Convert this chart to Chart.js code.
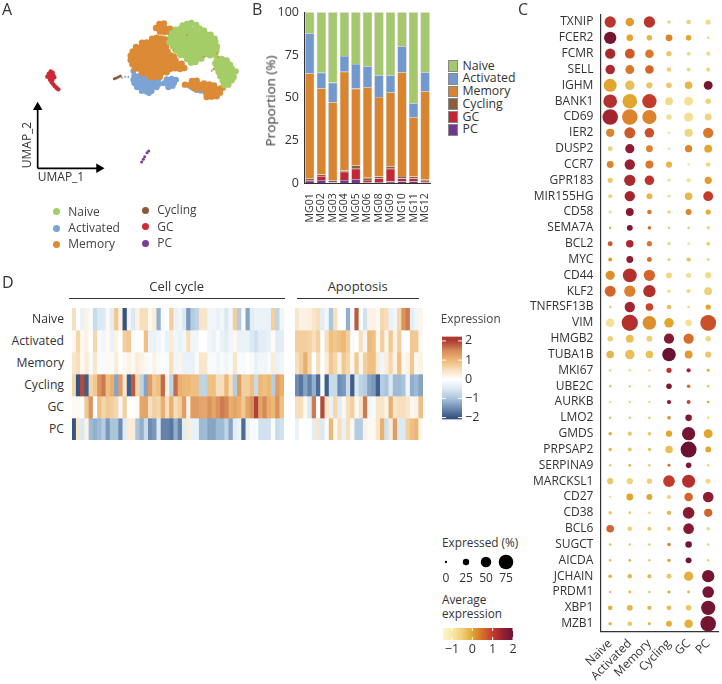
<!DOCTYPE html>
<html>
<head>
<meta charset="utf-8">
<title>MG B cell atlas</title>
<script src="https://cdn.jsdelivr.net/npm/chart.js@4"></script>
<style>
  html, body { margin: 0; padding: 0; background: #fff; }
  #page { position: relative; width: 722px; height: 684px; overflow: hidden; font-family: "Open Sans", sans-serif; color: #333; }
  #page canvas { position: absolute; }
  .t { position: absolute; white-space: nowrap; line-height: 1; }
  .rule { position: absolute; height: 1.4px; background: #333; }
  .dot { position: absolute; width: 7px; height: 7px; border-radius: 50%; }
  .sw { position: absolute; width: 8px; height: 9.7px; border: 1px solid #888; }
</style>
</head>
<body>
<div id="page"></div>
<script>
/* ---------- A: UMAP, picture units ---------- */
const umapNaive = [[548,76],[561,72],[574,69],[589,75],[526,89],[541,86],[556,87],[569,84],[584,88],[599,86],[612,92],
  [516,100],[531,102],[545,99],[560,101],[576,98],[590,102],[605,99],[619,103],[632,104],[512,113],[527,114],[542,112],[557,115],[572,112],[587,114],[602,112],[617,115],[632,113],[644,116],
  [508,127],[525,125],[540,128],[555,126],[570,128],[585,125],[600,128],[615,126],[630,128],[646,126],[518,139],[533,140],[548,138],[563,141],[578,138],[593,140],[608,138],[623,141],[638,139],[651,140],
  [528,152],[543,153],[558,151],[573,153],[588,151],[603,153],[618,151],[633,154],[649,152],[541,165],[555,166],[570,164],[585,166],[600,165],[615,163],[630,166],[646,164],
  [561,177],[575,179],[590,177],[604,176],[651,178],[665,177],[680,181],[573,188],[586,186],[646,190],[660,189],[675,192],[690,194],
  [650,203],[665,204],[680,203],[695,205],[656,216],[670,217],[685,215],[700,217],[707,214],[661,229],[675,230],[690,228],[701,231],[668,242],[682,243],[695,241],[672,255],[685,254]];
const umapActivated = [[400,213],[403,227],[416,229],[430,231],[400,239],[415,238],[430,240],[445,238],[460,240],[475,238],[500,238],[515,236],[528,239],
  [403,250],[417,252],[432,250],[447,252],[462,250],[477,252],[492,250],[507,251],[522,249],[411,262],[425,263],[440,262],[455,264],[470,262],[505,262],[518,258],
  [425,273],[440,275],[455,273],[447,279],[570,258],[577,263],[590,270],[602,272],[651,197]];
const umapMemory = [[456,116],[470,113],[485,115],[497,118],[426,128],[440,127],[455,129],[470,126],[485,128],[500,127],[408,141],[423,142],[438,140],[453,142],[468,140],[483,142],[498,140],
  [398,154],[413,155],[428,153],[443,155],[458,153],[473,155],[488,153],[503,155],[392,167],[407,168],[422,166],[437,168],[452,166],[467,168],[482,166],[497,168],[512,166],[522,170],
  [392,180],[407,181],[422,179],[437,181],[452,179],[467,181],[482,179],[497,181],[512,179],[527,182],[397,193],[412,194],[427,192],[442,194],[457,192],[472,194],[487,192],[502,194],[517,192],[532,195],[545,191],
  [405,206],[420,207],[435,205],[450,207],[465,205],[480,207],[495,205],[510,207],[525,205],[540,207],[553,204],[425,219],[440,220],[455,218],[470,220],[485,218],[500,217],[450,231],[465,232],[480,230],
  [478,72],[492,70],[468,84],[482,83],[496,85],[510,86],[480,95],[494,96],[508,96],[520,92],
  [576,243],[590,242],[555,254],[570,255],[585,253],[600,255],[612,250],[628,253],[642,256],[585,266],[600,265],[615,267],[630,265],[645,267],[660,266],[668,263],[618,278],[633,279],[648,277],[660,278],[620,291],[635,290],[650,289]];
const umapStray = [[562,105],[655,171],[640,208],[635,212],[520,150],[612,170],[650,160]];
const umapStrayBlue = [[375,230],[385,231],[366,233]];
const umapCycling = [[343,236],[349,234],[355,231],[361,228]];
const umapGC = [[152,214],[158,218],[146,222],[152,224],[160,226],[142,230],[148,232],[155,233],[163,232],[150,239],[157,240],[155,247],[160,253],[165,259],[170,264],[175,268]];
const umapPC = [[425,486],[430,478],[434,470],[441,458],[446,453]];
const umapAxisX = [[113,505],[297,505]];
const umapAxisY = [[113,505],[113,322]];

/* ---------- B: composition per sample ---------- */
const samples = ['MG01','MG02','MG03','MG04','MG05','MG06','MG08','MG09','MG10','MG11','MG12'];
const propPC       = [1.5, 2.0, 0.3, 2.0, 2.5, 0.5, 0.7, 1.0, 1.2, 1.2, 0.5];
const propGC       = [0.5, 2.2, 0.2, 4.8, 6.0, 1.5, 2.3, 7.5, 1.6, 1.6, 1.0];
const propCycling  = [1.0, 1.0, 1.3, 0.7, 2.0, 1.2, 1.0, 1.5, 1.5, 1.2, 0.8];
const propMemory   = [61.3, 50.4, 45.6, 57.8, 44.9, 52.9, 46.5, 43.2, 60.6, 34.6, 51.5];
const propActivated= [23.4, 9.1, 11.5, 9.2, 14.4, 12.3, 12.7, 10.0, 15.2, 8.2, 11.1];
const propNaive    = [12.3, 35.3, 41.1, 25.5, 30.2, 31.6, 36.8, 36.8, 19.9, 53.2, 35.1];
const propTicks = [0, 25, 50, 75, 100];

/* ---------- C: dot plot ---------- */
const cellTypes = ['Naive','Activated','Memory','Cycling','GC','PC'];
const genes = ['TXNIP','FCER2','FCMR','SELL','IGHM','BANK1','CD69','IER2','DUSP2','CCR7','GPR183','MIR155HG','CD58','SEMA7A','BCL2','MYC','CD44','KLF2','TNFRSF13B','VIM',
  'HMGB2','TUBA1B','MKI67','UBE2C','AURKB','LMO2','GMDS','PRPSAP2','SERPINA9','MARCKSL1','CD27','CD38','BCL6','SUGCT','AICDA','JCHAIN','PRDM1','XBP1','MZB1'];
const expressedPct = [
  [55,38,55,6,14,18],[61,26,20,28,20,2],[49,46,38,18,10,12],[44,40,38,14,10,12],[65,44,24,20,32,40],[69,75,73,34,40,18],[81,81,73,20,42,28],[36,53,44,4,36,49],[16,42,28,4,30,34],[28,49,34,24,2,14],
  [18,55,44,4,12,30],[10,49,22,4,32,46],[4,34,14,8,22,18],[2,22,8,2,2,4],[16,32,18,6,2,10],[10,28,16,4,12,4],[42,71,55,22,18,24],[53,55,61,6,12,34],[4,49,32,14,2,18],[38,85,69,44,26,83],
  [20,34,22,48,49,18],[32,44,32,69,34,24],[2,1,1,18,12,4],[2,1,1,20,8,2],[2,1,1,12,10,2],[2,1,1,8,26,1],[8,12,8,24,67,40],[6,10,6,32,83,22],[1,2,1,4,20,1],[24,24,18,57,65,16],
  [2,28,22,12,38,51],[8,4,2,12,57,36],[32,14,10,10,51,8],[2,1,1,8,26,2],[2,2,1,6,22,2],[8,14,10,16,42,61],[2,4,2,4,4,57],[14,22,12,16,20,73],[8,14,4,22,38,81]];
const averageExpr = [
  [1.1,0.1,1.1,-0.5,-0.5,-0.7],[1.9,0,-0.2,0.3,0,-0.6],[1.3,0.7,0.4,-0.4,-0.7,-0.7],[1.3,0.4,0.6,-0.5,-0.6,-0.6],[0,-0.3,-0.4,-0.4,-0.2,1.9],[1.2,0,1.0,-0.7,-0.8,-0.5],[1.4,0.3,0.3,-0.8,-0.8,-0.6],[0.3,0.7,0.8,-1,-0.6,0.4],[-0.5,1.6,0.3,-0.9,0.3,0],[0.3,1.5,0.4,-0.2,-0.9,-0.6],
  [-0.4,1.3,1.1,-0.7,-0.8,0.1],[-0.5,1.4,-0.2,-0.7,-0.2,1.0],[-0.7,1.7,0.4,-0.6,0.3,-0.1],[-0.2,1.8,0.5,-0.5,-0.4,-0.4],[0.7,1.3,0.4,-0.6,-0.8,-0.5],[0.1,1.6,0.5,-0.5,-0.3,-0.6],[0.2,1.2,0.6,-0.6,-0.8,-0.7],[0.6,0.3,1.2,-0.7,-0.7,-0.5],[-0.6,1.4,0.9,-0.3,-0.6,0],[-0.8,1.2,0.2,0,-0.8,0.8],
  [-0.5,-0.3,-0.5,1.7,0.5,-0.6],[-0.2,-0.3,-0.3,2,0.1,-0.4],[-0.6,-0.7,-0.7,1.1,1.4,0],[-0.4,-0.5,-0.5,1.8,0.5,-0.4],[-0.7,-0.6,-0.7,1.6,0.9,0],[-0.3,-0.4,-0.4,0.2,1.8,-0.6],[-0.1,-0.4,-0.4,0,1.9,0],[-0.2,-0.4,-0.3,-0.3,2,0],[-0.4,-0.1,-0.4,0.5,1.8,-0.5],[-0.4,-0.6,-0.5,1.0,1.2,-0.6],
  [-0.8,0,0,-0.6,0.6,1.6],[-0.4,-0.5,-0.6,-0.2,1.7,0.6],[0.6,-0.5,-0.4,-0.3,1.7,-0.6],[-0.3,-0.4,-0.4,0.3,1.9,-0.5],[-0.3,-0.1,-0.4,0.1,1.9,-0.5],[-0.1,-0.2,-0.2,-0.4,-0.1,1.9],[-0.3,-0.2,-0.4,0,-0.2,1.9],[-0.1,-0.2,-0.2,-0.3,-0.4,1.9],[-0.2,-0.4,-0.1,-0.1,-0.1,1.9]];
const legendPct = ['0','25','50','75'];
const avgTicks = [-1, 0, 1, 2];

/* ---------- D: pathway heatmap ---------- */
const heatRows = ['Naive','Activated','Memory','Cycling','GC','PC'];
const cycleNaive = [.5,0,-.3,.2,-.1,-.7,-.5,-.5,.1,-.4,.8,.2,-2,-.2,-.5,.2,.5,.5,.1,.3,-1.2,-.1,0,.7,-.3,-.2,-.5,-1.4,-.9,-.8,.4,.4,-.2,-.2,-.3,-.2,-.5,-.2,.7,-.9,-.1,-1.3,-.4,-.3,-.3,-.3,-.3,.7,-.8,-.2];
const cycleActivated = [.1,.6,.1,.2,0,.6,-.1,-.2,.1,-.3,.2,0,.7,.8,-.1,0,0,.9,-.3,-.3,-.2,-.1,-.3,.3,-.2,-.3,-.2,.5,-.2,-.2,0,0,-.2,-.3,-.1,-.3,-.4,-.2,.1,-.3,-.3,-.3,-.5,-.6,-.4,-.4,-.3,.05,-.4,-.4];
const cycleMemory = [.4,.5,.1,.3,-.1,.4,-.1,-.1,.1,-.1,.3,0,.1,.2,.1,.3,.2,.1,-.1,.2,-.1,-.05,-.1,.5,-.2,.15,-.3,-.3,-.3,-.1,.4,.4,-.1,-.1,-.2,-.1,-.2,-.1,.4,-.1,-.1,0,-.1,-.3,-.2,-.2,-.1,.3,-.3,-.2];
const cycleCycling = [.6,-2,1.9,-1.9,.6,.8,1.4,1.6,.9,1.1,-1.3,1.3,.4,-1.9,1.8,.6,-.8,-1.3,1.3,.8,.9,1.7,.2,-.8,1.7,1.1,1,1,.9,.9,-.8,-.8,.9,.9,.5,.5,1,.5,-.9,1.3,.7,.7,.9,-.7,1,.9,1,-.9,1.3,1.1];
const cycleGC = [.1,.1,0,.8,1.4,0,.9,.6,.8,.7,.6,.1,.7,0,0,.1,1.2,1.2,.5,.7,.6,1.1,.5,1.1,.5,.7,1.3,.2,1.3,1.3,1.2,1.2,1.4,1.2,1.4,1.6,1.5,1.1,1.2,1.1,.8,1.2,1.4,1.95,1.2,1.5,1.1,1,1.4,.9];
const cyclePC = [-2,.4,-.5,.2,-1.1,-1.2,-1.1,-.9,-1.4,-1,-1,-1.5,-.4,.3,.3,-1,-1.2,-.7,-1.5,-1.4,-.5,-1.6,-1.6,-1.7,-1.2,-1.6,-.4,.3,-.3,-.3,-1.1,-1.1,-1.3,-1.3,-1.1,-1.1,-.8,-1.3,-.4,-.3,-1.8,-.3,-.1,-.1,-.6,-.6,-.6,-.1,-.7,-.6];
const apoNaive = [.4,.2,.2,.25,.4,.5,-.4,-.2,-1,.5,0,0,-1.2,-.1,1.8,0,-.6,.2,.2,.1,.6,.5,-.3,-.2,.6,1.4,1.6,-.4,-.2,.15];
const apoActivated = [.7,.7,.7,.65,.5,.7,0,.5,.9,.8,.9,1,.7,-.1,0,.5,-.2,1,.9,.1,.7,.2,.8,.2,.7,0,0,.8,.8,.1];
const apoMemory = [.5,.7,1.1,.6,0,.5,0,.3,.8,.6,.2,.8,.6,.1,.8,.1,.7,.9,.9,.3,-.2,.3,.6,.2,.9,.1,.2,.8,.1,.2];
const apoCycling = [-1.5,-1.7,-1.3,-1.6,-1.2,-1.8,-.1,-1.9,-.7,-.7,-1.5,-1.4,-.7,-1.9,-.5,-.8,-.9,-1.3,-1.4,-1.9,-.9,-1,-.5,-1.1,-1.1,-1,-.2,-1.2,-1.1,-1.3];
const apoGC = [.5,.5,.1,-.5,1.6,0,1.9,.4,-.3,.6,-.4,.1,.5,.7,.1,.4,1.6,-.2,-.1,.4,.4,.2,1.1,.4,.5,.5,.4,.1,.2,.9];
const apoPC = [-.3,0,0,0,-.4,.4,-.5,-.1,1,.1,.5,-.3,.5,.1,-.9,-.9,.2,.1,.1,.4,1.1,-.6,.3,1.3,-.5,-.5,.7,.9,1,.1];
const heatTicks = [-2, -1, 0, 1, 2];

const TYPE_COLORS = { Naive: '#a4cd68', Activated: '#7ba3d6', Memory: '#dc8a35', Cycling: '#8a5a3a', GC: '#cc2a35', PC: '#7d3c98' };
const BAR_COLORS = { Naive: '#a3c96c', Activated: '#7199cf', Memory: '#d98530', Cycling: '#8b5f3c', GC: '#c62633', PC: '#74378f' };
const HEAT_STOPS = [[-2,'#36547f'],[-1.5,'#6f8db4'],[-1,'#aac6dc'],[-.5,'#dbe9f2'],[0,'#ffffff'],[.5,'#f7dfbd'],[1,'#edb873'],[1.5,'#d58a58'],[2,'#ad3a33']];
const AVG_STOPS = [[-1.44,'#fdf6c8'],[-1,'#f9e9a8'],[-.5,'#efd077'],[0,'#e2a52e'],[.4,'#d9782c'],[1,'#c33c2b'],[1.5,'#982032'],[2,'#6b1232']];

Chart.defaults.font.family = '"Open Sans", sans-serif';
Chart.defaults.color = '#333';
Chart.defaults.animation = false;
Chart.defaults.responsive = false;
Chart.defaults.plugins.legend.display = false;
Chart.defaults.plugins.tooltip.enabled = false;

const page = document.getElementById('page');

function canvasAt(left, top, width, height) {
  const c = document.createElement('canvas');
  c.width = width; c.height = height;
  c.style.left = left + 'px'; c.style.top = top + 'px';
  c.style.width = width + 'px'; c.style.height = height + 'px';
  page.appendChild(c);
  return c.getContext('2d');
}

function text(str, x, y, size, opts) {
  opts = opts || {};
  const d = document.createElement('div');
  d.className = 't';
  d.textContent = str;
  d.style.left = x + 'px';
  d.style.top = y + 'px';
  d.style.fontSize = size + 'px';
  // x,y is the anchor; middle of line vertically
  const tx = opts.align === 'right' ? '-100%' : opts.align === 'center' ? '-50%' : '0';
  d.style.transform = `translate(${tx},-50%)` + (opts.rotate ? ` rotate(${opts.rotate}deg)` : '');
  if (opts.color) d.style.color = opts.color;
  page.appendChild(d);
}

function hexToRgb(h) {
  return [1, 3, 5].map(i => parseInt(h.slice(i, i + 2), 16));
}

function ramp(stops, v) {
  if (v <= stops[0][0]) return stops[0][1];
  for (let i = 1; i < stops.length; i++) {
    if (v <= stops[i][0]) {
      const t = (v - stops[i - 1][0]) / (stops[i][0] - stops[i - 1][0]);
      const a = hexToRgb(stops[i - 1][1]), b = hexToRgb(stops[i][1]);
      const m = a.map((c, k) => Math.round(c + (b[k] - c) * t));
      return `rgb(${m[0]},${m[1]},${m[2]})`;
    }
  }
  return stops[stops.length - 1][1];
}

const pctRadius = (p) => 1.15 + 0.082 * p;
const minus = (v) => String(v).replace('-', '\u2212');

// paints a scale's stops along a chart area, from min to max of the value scale
function scaleGradient(chart, stops, horizontal) {
  const a = chart.chartArea;
  if (!a) return stops[0][1];
  const scale = horizontal ? chart.scales.x : chart.scales.y;
  const g = horizontal
    ? chart.ctx.createLinearGradient(a.left, 0, a.right, 0)
    : chart.ctx.createLinearGradient(0, a.bottom, 0, a.top);
  const span = scale.max - scale.min;
  stops.forEach(s => {
    const t = (s[0] - scale.min) / span;
    if (t >= 0 && t <= 1) g.addColorStop(t, s[1]);
  });
  return g;
}

// short white notches on both edges of a colour bar
const barNotches = {
  id: 'barNotches',
  afterDatasetsDraw(chart) {
    const { ctx, chartArea: a, scales } = chart;
    const horizontal = chart.options.indexAxis === 'y';
    const scale = horizontal ? scales.x : scales.y;
    ctx.save();
    ctx.strokeStyle = '#fff';
    ctx.lineWidth = 1;
    scale.ticks.forEach(t => {
      const p = scale.getPixelForValue(t.value);
      ctx.beginPath();
      if (horizontal) {
        ctx.moveTo(p, a.top); ctx.lineTo(p, a.top + 3);
        ctx.moveTo(p, a.bottom - 3); ctx.lineTo(p, a.bottom);
      } else {
        ctx.moveTo(a.left, p); ctx.lineTo(a.left + 4, p);
        ctx.moveTo(a.right - 4, p); ctx.lineTo(a.right, p);
      }
      ctx.stroke();
    });
    ctx.restore();
  }
};

/* ---------- panel A ---------- */
function drawUmap() {
  const pts = (list) => list.map(p => ({ x: p[0], y: p[1] }));
  const cloud = (color, list, r) => ({
    data: pts(list), backgroundColor: color, borderWidth: 0, pointRadius: r
  });
  const arrow = (list, rotation) => ({
    type: 'line', data: pts(list), borderColor: '#000', borderWidth: 1.7, backgroundColor: '#000',
    pointStyle: 'triangle', pointRotation: rotation, pointRadius: [0, 5.5], pointBorderWidth: 0
  });
  new Chart(canvasAt(0, 0, 250, 260), {
    type: 'scatter',
    data: { datasets: [
      arrow(umapAxisX, 90), arrow(umapAxisY, 0),
      cloud(TYPE_COLORS.Memory, umapStray, 1),
      cloud(TYPE_COLORS.Activated, umapStrayBlue, 1),
      cloud(TYPE_COLORS.Naive, umapNaive, 3.2),
      cloud(TYPE_COLORS.Memory, umapMemory, 3.2),
      cloud(TYPE_COLORS.Activated, umapActivated, 3),
      cloud(TYPE_COLORS.Cycling, umapCycling, 1.5),
      cloud(TYPE_COLORS.GC, umapGC, 2.2),
      cloud(TYPE_COLORS.PC, umapPC, 1.5),
    ] },
    options: {
      layout: { padding: 0, autoPadding: false },
      scales: {
        x: { display: false, min: 0, max: 750 },
        y: { display: false, min: 0, max: 780, reverse: true },
      },
    },
  });
  text('UMAP_1', 61, 177, 12, { align: 'center' });
  text('UMAP_2', 27, 145, 12, { align: 'center', rotate: -90 });

  const legend = [['Naive', 56.7, 211.7], ['Activated', 56.7, 228], ['Memory', 56.7, 244.3],
                  ['Cycling', 145.7, 210.3], ['GC', 145.7, 226.7], ['PC', 145.7, 243]];
  legend.forEach(l => {
    const d = document.createElement('div');
    d.className = 'dot';
    d.style.left = (l[1] - 3.5) + 'px';
    d.style.top = (l[2] - 3.5) + 'px';
    d.style.background = TYPE_COLORS[l[0]];
    page.appendChild(d);
    text(l[0], l[1] + 11.6, l[2], 12, { color: '#444' });
  });
}

/* ---------- panel B ---------- */
function drawProportion() {
  const series = [['PC', propPC], ['GC', propGC], ['Cycling', propCycling], ['Memory', propMemory], ['Activated', propActivated], ['Naive', propNaive]];
  new Chart(canvasAt(250, 0, 190, 225), {
    type: 'bar',
    data: {
      labels: samples,
      datasets: series.map(s => ({
        label: s[0], data: s[1], backgroundColor: BAR_COLORS[s[0]],
        borderColor: 'rgba(70,60,50,.45)', borderWidth: 0.6,
        barPercentage: 0.8, categoryPercentage: 1,
      })),
    },
    options: {
      layout: { padding: { top: 12.3, right: 7.4 } },
      scales: {
        x: {
          stacked: true,
          grid: { display: false },
          border: { color: '#333', width: 1 },
          ticks: { minRotation: 90, maxRotation: 90, autoSkip: false, padding: 2, font: { size: 10.5 } },
          afterFit: (s) => { s.height = 41.7; },
        },
        y: {
          stacked: true, min: 0, max: 100,
          grid: { display: false, tickLength: 3, tickColor: '#333' },
          border: { color: '#333', width: 1 },
          ticks: { padding: 2, font: { size: 12.5 }, color: '#333' },
          afterBuildTicks: (s) => { s.ticks = propTicks.map(v => ({ value: v })); },
          afterFit: (s) => { s.width = 54; },
        },
      },
    },
  });
  text('Proportion  (%)', 271, 101, 13.5, { align: 'center', rotate: -90 });
  // legend reads top-down from the top of the stack
  ['Naive', 'Activated', 'Memory', 'Cycling', 'GC', 'PC'].forEach((name, i) => {
    const y = 65.5 + i * 12.75;
    const d = document.createElement('div');
    d.className = 'sw';
    d.style.left = '448px';
    d.style.top = (y - 5.4) + 'px';
    d.style.background = BAR_COLORS[name];
    page.appendChild(d);
    text(name, 462.5, y, 12.3, { color: '#333' });
  });
}

/* ---------- panel C ---------- */
function drawDotPlot() {
  const dots = [];
  genes.forEach((g, i) => {
    cellTypes.forEach((c, j) => {
      dots.push({ x: c, y: g, r: pctRadius(expressedPct[i][j]), v: averageExpr[i][j] });
    });
  });
  new Chart(canvasAt(520, 0, 202, 684), {
    type: 'bubble',
    data: { datasets: [{
      data: dots, borderWidth: 0, clip: false,
      backgroundColor: (ctx) => ctx.raw ? ramp(AVG_STOPS, ctx.raw.v) : '#000',
    }] },
    options: {
      layout: { padding: { top: 14.1, right: 4 }, autoPadding: false },
      scales: {
        x: {
          type: 'category', labels: cellTypes, offset: true,
          grid: { display: false, tickLength: 4, tickColor: '#333' },
          border: { color: '#333', width: 1.2 },
          ticks: { minRotation: 45, maxRotation: 45, autoSkip: false, padding: 1, font: { size: 12 } },
          afterFit: (s) => { s.height = 52.4; },
        },
        y: {
          type: 'category', labels: genes, offset: true,
          grid: { display: false, tickLength: 4, tickColor: '#333' },
          border: { color: '#333', width: 1.2 },
          ticks: { autoSkip: false, padding: 3, font: { size: 12 } },
          afterFit: (s) => { s.width = 80.4; },
        },
      },
    },
  });
}

/* ---------- panel D ---------- */
function drawHeat(left, width, rows) {
  const labels = rows[0].map((_, i) => i);
  new Chart(canvasAt(left, 308, width, 132), {
    type: 'bar',
    data: {
      labels,
      datasets: rows.map((row, r) => ({
        data: row.map(() => [r, r + 1]),
        backgroundColor: row.map(v => ramp(HEAT_STOPS, v)),
        borderWidth: 0, barPercentage: 1, categoryPercentage: 1, grouped: false,
      })),
    },
    options: {
      layout: { padding: 0 },
      scales: {
        x: { display: false },
        y: { display: false, min: 0, max: heatRows.length, reverse: true },
      },
    },
  });
}

function drawHeatLegend() {
  new Chart(canvasAt(442, 326, 50, 104), {
    type: 'bar',
    data: { labels: [''], datasets: [{
      data: [[-2.1, 2.23]], barPercentage: 1, categoryPercentage: 1,
      backgroundColor: (ctx) => scaleGradient(ctx.chart, HEAT_STOPS, false),
    }] },
    options: {
      layout: { padding: { top: 5, bottom: 5 } },
      scales: {
        x: { display: false },
        y: {
          position: 'right', min: -2.1, max: 2.23,
          grid: { display: false, drawTicks: false },
          border: { display: false },
          ticks: { padding: 3, font: { size: 12.5 }, callback: (v) => minus(v) },
          afterBuildTicks: (s) => { s.ticks = heatTicks.map(v => ({ value: v })); },
          afterFit: (s) => { s.width = 30; },
        },
      },
    },
    plugins: [barNotches],
  });
  text('Expression', 440.7, 319, 11.8, { color: '#444' });
}

function drawDotLegends() {
  text('Expressed (%)', 442, 542.7, 11.8, { color: '#333' });
  new Chart(canvasAt(436, 550, 80, 38), {
    type: 'bubble',
    data: { datasets: [{
      data: legendPct.map(p => ({ x: p, y: 0.4, r: pctRadius(+p) })),
      backgroundColor: '#000', borderWidth: 0, clip: false,
    }] },
    options: {
      layout: { padding: 0, autoPadding: false },
      scales: {
        x: {
          type: 'category', labels: legendPct, offset: true,
          grid: { display: false, drawTicks: false }, border: { display: false },
          ticks: { padding: 1, font: { size: 12 }, autoSkip: false, minRotation: 0, maxRotation: 0 },
          afterFit: (s) => { s.height = 18; },
        },
        y: { display: false, min: 0, max: 1 },
      },
    },
  });

  text('Average', 442, 600, 11.8, { color: '#333' });
  text('expression', 442, 614, 11.8, { color: '#333' });
  new Chart(canvasAt(436, 628, 90, 28), {
    type: 'bar',
    data: { labels: [''], datasets: [{
      data: [[-1.44, 2]], barPercentage: 1, categoryPercentage: 1,
      backgroundColor: (ctx) => scaleGradient(ctx.chart, AVG_STOPS, true),
    }] },
    options: {
      indexAxis: 'y',
      layout: { padding: { left: 7, right: 13 } },
      scales: {
        y: { display: false },
        x: {
          min: -1.44, max: 2,
          grid: { display: false, drawTicks: false }, border: { display: false },
          ticks: { padding: 2, font: { size: 12.5 }, callback: (v) => minus(v) },
          afterBuildTicks: (s) => { s.ticks = avgTicks.map(v => ({ value: v })); },
          afterFit: (s) => { s.height = 16; },
        },
      },
    },
    plugins: [barNotches],
  });
}

function rule(left, top, width) {
  const d = document.createElement('div');
  d.className = 'rule';
  d.style.left = left + 'px';
  d.style.top = top + 'px';
  d.style.width = width + 'px';
  page.appendChild(d);
}

drawUmap();
drawProportion();
drawDotPlot();
drawHeat(72, 212, [cycleNaive, cycleActivated, cycleMemory, cycleCycling, cycleGC, cyclePC]);
drawHeat(295, 128, [apoNaive, apoActivated, apoMemory, apoCycling, apoGC, apoPC]);
drawHeatLegend();
drawDotLegends();

heatRows.forEach((name, i) => text(name, 64, 319 + i * 22, 12.2, { align: 'right' }));
text('Cell cycle', 176.7, 286, 13, { align: 'center' });
text('Apoptosis', 357.7, 286, 13, { align: 'center' });
rule(69, 298, 215.5);
rule(296.7, 298, 122);

text('A', 2, 9, 16);
text('B', 252, 9, 16);
text('C', 518, 9, 16);
text('D', 2, 282, 16);
</script>
</body>
</html>
